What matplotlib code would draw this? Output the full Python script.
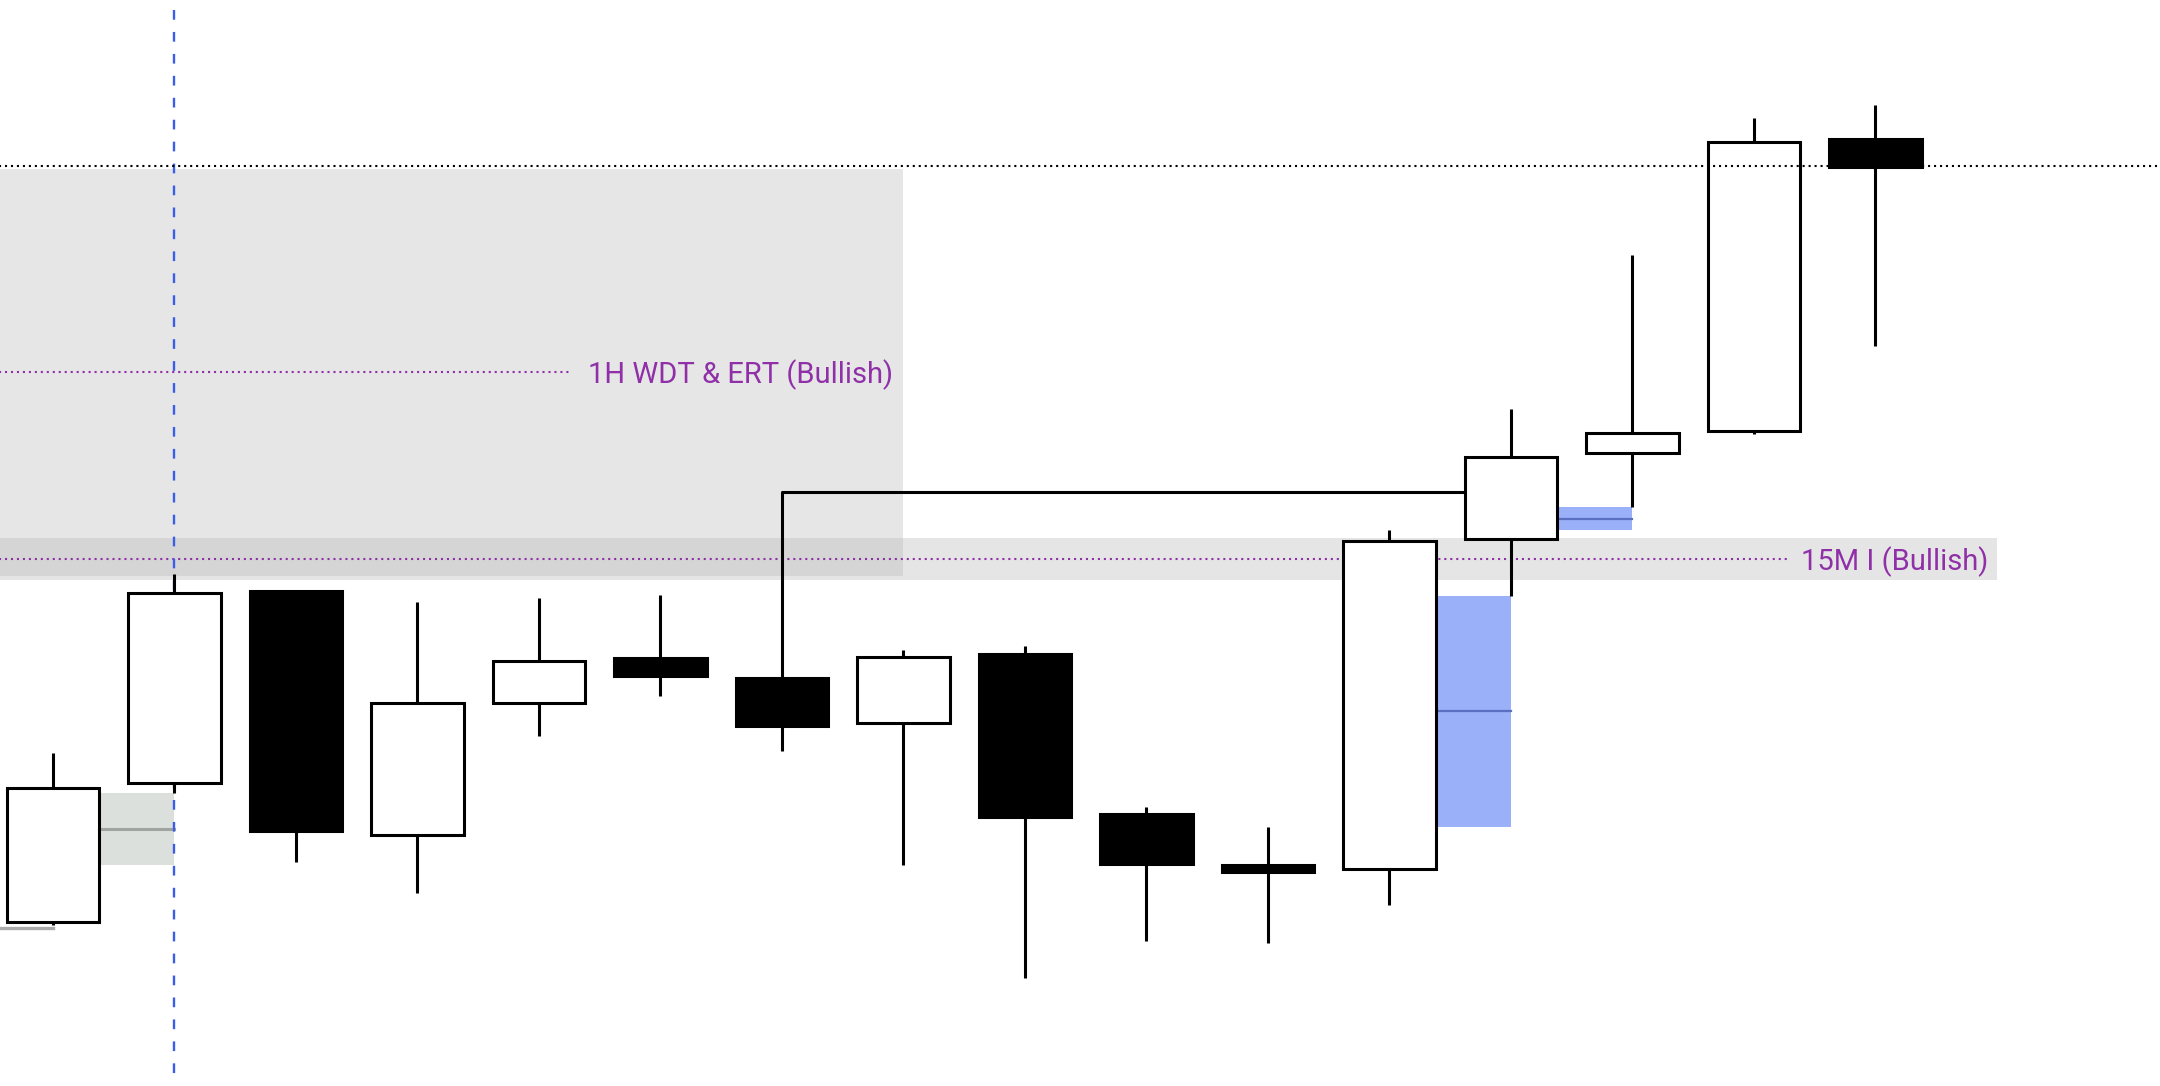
import matplotlib
matplotlib.use("Agg")
import matplotlib.pyplot as plt
from matplotlib.patches import Rectangle

plt.rcParams['lines.scale_dashes'] = False

# свечи: open, high, low, close (условная шкала цены)
opens = [164, 303, 495, 251, 383, 428, 408, 363, 432, 272, 221, 217, 547, 633, 655, 947]
highs = [333, 512, 495, 484, 488, 491, 408, 436, 440, 279, 259, 556, 677, 831, 968, 981]
lows = [161, 293, 224, 193, 350, 390, 335, 221, 108, 145, 143, 181, 490, 579, 652, 740]
closes = [298, 493, 255, 383, 425, 410, 360, 429, 269, 222, 214, 545, 629, 653, 944, 919]

# уровни и зоны
htf_zone = (510, 917)        # серая зона 1H
htf_level = 714
ltf_zone = (506, 548)        # полоса 15M
ltf_level = 527
top_level = 920              # чёрная пунктирная линия
bracket_level = 594
gap_zone = (221, 293, 257)   # низ, верх, середина
blue_gap1 = (259, 490, 375)
blue_gap2 = (556, 579, 567)
base_line = 158
marker_x = 1

purple = '#9030a8'
body_w = 0.76
half = 0.387

fig = plt.figure(figsize=(21.6, 10.86), dpi=100)
ax = fig.add_axes([0, 0, 1, 1])
ax.set_xlim(-0.436, 17.342)
ax.set_ylim(0, 1086)
ax.axis('off')

# зоны
ax.add_patch(Rectangle((-1, htf_zone[0]), 8, htf_zone[1] - htf_zone[0],
                       facecolor='#e6e6e6', edgecolor='none', zorder=1))
ax.add_patch(Rectangle((-1, ltf_zone[0]), 17, ltf_zone[1] - ltf_zone[0],
                       facecolor='#b8b8b8', alpha=0.36, edgecolor='none', zorder=1.1))
ax.plot([-1, 4.27], [htf_level, htf_level], color=purple, lw=1.5,
        dashes=[1.5, 2.8], dash_capstyle='butt', zorder=2)
ax.text(6.915, 703, "1H WDT & ERT (Bullish)", color=purple, fontsize=21,
        family='Roboto', ha='right', va='baseline', zorder=2)
ax.plot([-1, 14.27], [ltf_level, ltf_level], color=purple, lw=1.5,
        dashes=[1.5, 2.8], dash_capstyle='butt', zorder=2)
ax.text(15.93, 516, "15M I (Bullish)", color=purple, fontsize=21,
        family='Roboto', ha='right', va='baseline', zorder=2)

# разрывы
ax.add_patch(Rectangle((half, gap_zone[0]), 1 - half, gap_zone[1] - gap_zone[0],
                       facecolor='#dce0dc', edgecolor='none', zorder=1))
ax.plot([half, 1], [gap_zone[2], gap_zone[2]], color='#a0a4a0', lw=2.2, zorder=1.5)
for x0, g in [(11 + half, blue_gap1), (12 + half, blue_gap2)]:
    ax.add_patch(Rectangle((x0, g[0]), 12 + (x0 > 12) - x0, g[1] - g[0],
                           facecolor='#9ab0f9', edgecolor='none', zorder=1.2))
    ax.plot([x0, 12 + (x0 > 12)], [g[2], g[2]], color='#5a6fbf', lw=1.6, zorder=1.3)
ax.plot([-1, 0], [base_line, base_line], color='#a8aba8', lw=2.4, zorder=1)

# вертикальная линия
ax.plot([marker_x, marker_x], [1076, 10], color='#3a5ee6', lw=1.7,
        dashes=[7.0, 8.8], dash_capstyle='butt', zorder=2.5)

# свечи
xs = list(range(len(opens)))
ax.vlines(xs, lows, highs, color='black', lw=2.2, zorder=3)
colors = ['white' if c > o else 'black' for o, c in zip(opens, closes)]
bottoms = [min(o, c) for o, c in zip(opens, closes)]
heights = [max(abs(c - o), 1) for o, c in zip(opens, closes)]
ax.bar(xs, heights, bottom=bottoms, width=body_w, color=colors,
       edgecolor='black', linewidth=2.2, zorder=4)

# скобка
ax.plot([6, 6, 12 - half], [opens[6], bracket_level, bracket_level],
        color='black', lw=2.2, zorder=3.5)

# верхний уровень
ax.plot([-1, 18], [top_level, top_level], color='black', lw=1.5,
        dashes=[1.5, 2.8], dash_capstyle='butt', zorder=5)

fig.savefig("out.png", dpi=100)
